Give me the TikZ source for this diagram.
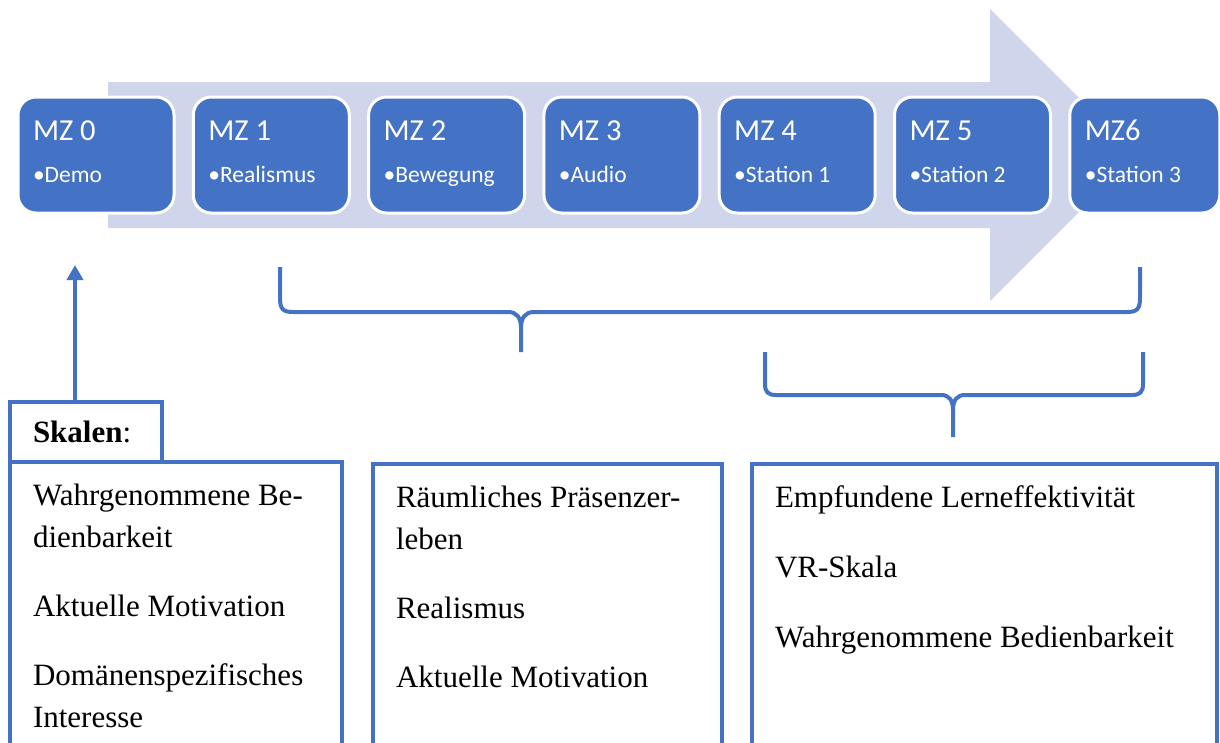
\documentclass[tikz,border=0pt]{standalone}
\usepackage{fontspec}
\setmainfont{Liberation Serif}
\newfontfamily\calibri{Carlito}
\usetikzlibrary{arrows.meta,positioning}
\definecolor{mzblue}{HTML}{4472C4}
\definecolor{mzarrow}{HTML}{CFD5EA}
\begin{document}
\begin{tikzpicture}[x=1pt, y=-1pt, node distance=175.3pt,
    mz node/.style={rectangle, rounded corners=18pt, draw=white, line width=3pt, fill=mzblue, text=white,
      minimum width=156pt, minimum height=116pt, text width=126pt, inner xsep=15pt, inner ysep=0pt,
      align=left, text height=20pt, text depth=50pt, font=\calibri\fontsize{30.5}{42}\selectfont,
      execute at begin node={\spaceskip=0pt\xspaceskip=0pt\relax}},
    scale box/.style={rectangle, draw=mzblue, line width=4pt, outer sep=0pt, inner xsep=23pt, inner ysep=22pt,
      align=left, text height=21pt, font=\fontsize{31}{42}\selectfont,
      execute at begin node={\spaceskip=0pt\xspaceskip=0pt\relax}},
    brace line/.style={draw=mzblue, line width=4pt}]
    \clip (0,0) rectangle (1220,742);
    \fill[mzarrow] (108,82) -- (990,82) -- (990,9) -- (1136,155) -- (990,301) -- (990,228) -- (108,228) -- cycle;
    \node[mz node] (mz0) at (96,155) {MZ 0\\{\fontsize{23.5}{42}\selectfont •Demo}};
    \node[mz node] (mz1) [right of=mz0] {MZ 1\\{\fontsize{23.5}{42}\selectfont •Realismus}};
    \node[mz node] (mz2) [right of=mz1] {MZ 2\\{\fontsize{23.5}{42}\selectfont •Bewegung}};
    \node[mz node] (mz3) [right of=mz2] {MZ 3\\{\fontsize{23.5}{42}\selectfont •Audio}};
    \node[mz node] (mz4) [right of=mz3] {MZ 4\\{\fontsize{23.5}{42}\selectfont •Station 1}};
    \node[mz node] (mz5) [right of=mz4] {MZ 5\\{\fontsize{23.5}{42}\selectfont •Station 2}};
    \node[mz node, minimum width=150pt, text width=120pt] (mz6) [right of=mz5, xshift=-3pt] {MZ6\\{\fontsize{23.5}{42}\selectfont •Station 3}};
    \draw[brace line] (280,267) -- (280,298) .. controls (280,309) and (283,312) .. (293,312) -- (508,312) .. controls (517,312) and (521,318) .. (521,328) -- (521,352);
    \draw[brace line] (521,328) .. controls (521,318) and (525,312) .. (534,312) -- (1127,312) .. controls (1137,312) and (1140,309) .. (1140,298) -- (1140,267);
    \draw[brace line] (765,352) -- (765,384) .. controls (765,392) and (768,395) .. (776,395) -- (941,395) .. controls (949,395) and (953,400) .. (953,410) -- (953,437);
    \draw[brace line] (953,410) .. controls (953,400) and (957,395) .. (965,395) -- (1132,395) .. controls (1140,395) and (1143,392) .. (1143,384) -- (1143,352);
    \node[scale box, text width=286pt, text depth=240pt, anchor=north west] (list1) at (10,462) {Wahrgenommene Be-\\dienbarkeit\\[27pt]Aktuelle Motivation\\[27pt]Domänenspezifisches\\Interesse};
    \node[scale box, text width=106pt, minimum height=60pt, text depth=0pt, inner ysep=0pt, anchor=south west] (skalen) at (list1.north west) {\textbf{Skalen}:};
    \node[scale box, text width=303pt, text depth=240pt, anchor=north west] (list2) at (373,464) {Räumliches Präsenzer-\\leben\\[27pt]Realismus\\[27pt]Aktuelle Motivation};
    \node[scale box, text width=419pt, text depth=240pt, anchor=north west] (list3) at (752,464) {Empfundene Lerneffektivität\\[28pt]VR-Skala\\[28pt]Wahrgenommene Bedienbarkeit};
    \coordinate (demo mark) at (75,265);
    \draw[mzblue, line width=4pt, -{Triangle[length=15pt,width=16pt]}] (skalen.north -| demo mark) -- (demo mark);
\end{tikzpicture}
\end{document}
